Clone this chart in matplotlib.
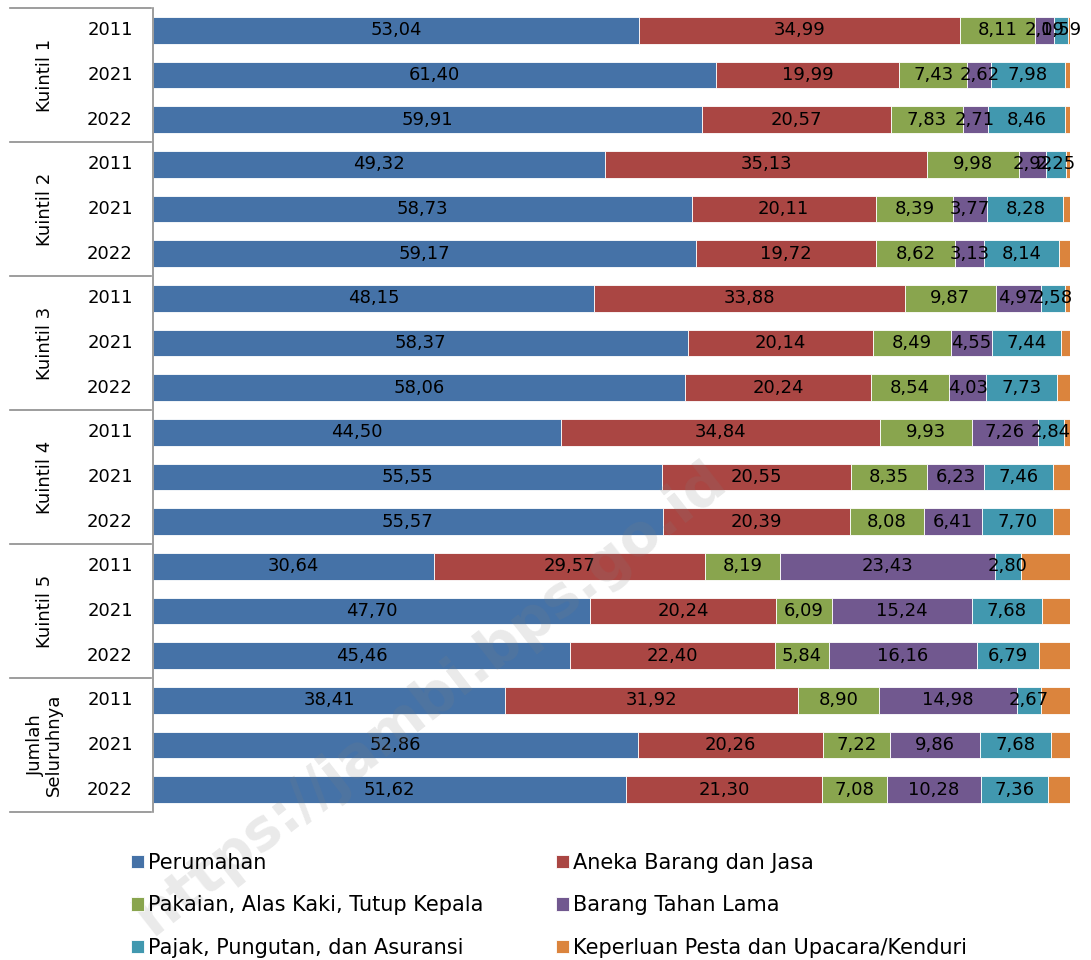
import matplotlib.pyplot as plt
import matplotlib.transforms as mtransforms
from matplotlib.lines import Line2D
import numpy as np

plt.rcParams['font.family'] = ['DejaVu Sans']

groups = ['Kuintil 1', 'Kuintil 2', 'Kuintil 3', 'Kuintil 4', 'Kuintil 5',
          'Jumlah\nSeluruhnya']
years = ['2011', '2021', '2022']

# one value per bar, bars ordered group by group, years inside each group
perumahan = [53.04, 61.40, 59.91, 49.32, 58.73, 59.17, 48.15, 58.37, 58.06,
             44.50, 55.55, 55.57, 30.64, 47.70, 45.46, 38.41, 52.86, 51.62]
aneka = [34.99, 19.99, 20.57, 35.13, 20.11, 19.72, 33.88, 20.14, 20.24,
         34.84, 20.55, 20.39, 29.57, 20.24, 22.40, 31.92, 20.26, 21.30]
pakaian = [8.11, 7.43, 7.83, 9.98, 8.39, 8.62, 9.87, 8.49, 8.54,
           9.93, 8.35, 8.08, 8.19, 6.09, 5.84, 8.90, 7.22, 7.08]
tahan_lama = [2.09, 2.62, 2.71, 2.92, 3.77, 3.13, 4.97, 4.55, 4.03,
              7.26, 6.23, 6.41, 23.43, 15.24, 16.16, 14.98, 9.86, 10.28]
pajak = [1.59, 7.98, 8.46, 2.25, 8.28, 8.14, 2.58, 7.44, 7.73,
         2.84, 7.46, 7.70, 2.80, 7.68, 6.79, 2.67, 7.68, 7.36]
pesta = [0.18, 0.58, 0.52, 0.40, 0.72, 1.22, 0.55, 1.01, 1.40,
         0.63, 1.86, 1.85, 5.37, 3.05, 3.35, 3.12, 2.12, 2.36]

series = [
    ('Perumahan', perumahan, '#4572A7', True),
    ('Aneka Barang dan Jasa', aneka, '#AA4643', True),
    ('Pakaian, Alas Kaki, Tutup Kepala', pakaian, '#89A54E', True),
    ('Barang Tahan Lama', tahan_lama, '#71588F', True),
    ('Pajak, Pungutan, dan Asuransi', pajak, '#4198AF', True),
    ('Keperluan Pesta dan Upacara/Kenduri', pesta, '#DB843D', False),
]

fig = plt.figure(figsize=(10.91, 9.6), dpi=100)
ax = fig.add_axes([0.1402, 0.1542, 0.8405, 0.8375])

n = len(perumahan)
y = np.arange(n)
left = np.zeros(n)
handles = []
for name, vals, color, labelled in series:
    vals = np.array(vals)
    bars = ax.barh(y, vals, left=left, height=0.6, color=color,
                   edgecolor='white', linewidth=0.6, label=name)
    if labelled:
        for yi, l, v in zip(y, left, vals):
            ax.text(l + v / 2, yi, f'{v:.2f}'.replace('.', ','),
                    ha='center', va='center', fontsize=13, color='black')
    handles.append(bars)
    left += vals

ax.set_xlim(0, 100)
ax.set_ylim(n - 0.5, -0.5)
ax.set_xticks([])
ax.set_yticks([])
for s in ['top', 'right', 'bottom']:
    ax.spines[s].set_visible(False)
ax.spines['left'].set_color('#8c8c8c')
ax.spines['left'].set_linewidth(1.2)

# two-level category axis on the left
trans = mtransforms.blended_transform_factory(fig.transFigure, ax.transData)
for i in range(n):
    ax.text(110 / 1091, i, years[i % 3], transform=trans, ha='center',
            va='center', fontsize=13)
for g, name in enumerate(groups):
    ax.text(45 / 1091, g * 3 + 1, name, transform=trans, ha='center',
            va='center', rotation=90, fontsize=13, linespacing=1.0)
for g in range(len(groups) + 1):
    yy = g * 3 - 0.5
    ax.add_line(Line2D([10 / 1091, 151 / 1091], [yy, yy], transform=trans,
                       color='#8c8c8c', linewidth=1.2, clip_on=False))

# legend is filled row by row: two entries per row
order = [0, 2, 4, 1, 3, 5]
fig.legend(handles=[handles[i] for i in order], loc='upper left',
           bbox_to_anchor=(0.103, 0.131), ncol=2, frameon=False,
           fontsize=15, handlelength=0.6, handleheight=0.6,
           handletextpad=0.2, columnspacing=3.5, labelspacing=1.07)

fig.text(0.395, 0.272, 'https://jambi.bps.go.id', rotation=38, fontsize=41,
         fontweight='bold', color='gray', alpha=0.17, ha='center',
         va='center')

fig.savefig('out.png', dpi=100)
